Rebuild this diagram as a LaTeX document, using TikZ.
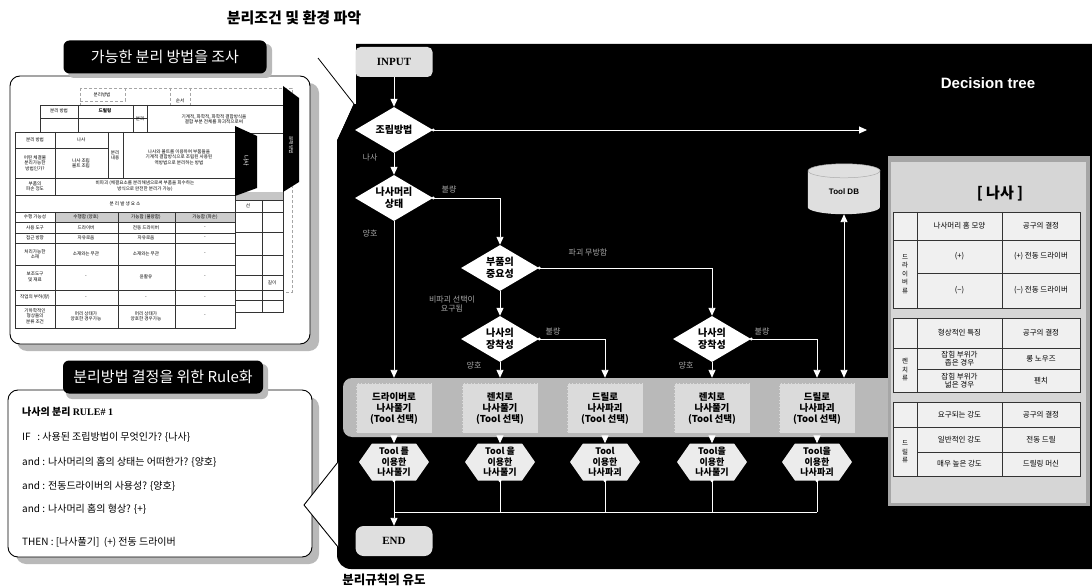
\documentclass[tikz,border=0pt]{standalone}
\usepackage{fontspec}
\setmainfont{Noto Sans CJK KR}
\newfontfamily\tms{Liberation Serif}
\newfontfamily\arl{Liberation Sans}
\usetikzlibrary{shapes.geometric,shapes.symbols,arrows.meta,calc}
\newcounter{cc}
\newcommand\tc[4][]{\stepcounter{cc}\node[tt,#1] (c\the\value{cc}) at (#2,#3) {#4};}
\tikzset{
 tip/.tip={Triangle[width=7pt,length=8pt]},
 wl/.style={white, line width=0.9pt},
 wa/.style={white, line width=0.9pt, -tip},
 dia/.style={diamond, fill=white, minimum width=78pt, minimum height=46pt, inner sep=0pt},
 dtext/.style={font=\fontsize{10}{11.5}\selectfont\bfseries, align=center, inner sep=0pt, text=black},
 glab/.style={text=gray!70, font=\fontsize{8}{9.5}\selectfont, align=center, inner sep=0pt},
 toolbox/.style={fill=gray!28, draw=gray!55, densely dotted, minimum width=76pt, minimum height=50pt, align=center, font=\fontsize{9.5}{11}\selectfont\bfseries, inner sep=1pt},
 hexa/.style={signal, signal to=west and east, signal pointer angle=110, fill=gray!15, minimum width=70pt, minimum height=37pt, inner sep=0pt, align=center, font=\fontsize{9}{10.5}\selectfont\bfseries},
 term/.style={fill=gray!25, rounded corners=5pt, minimum width=77pt, minimum height=30pt, font=\tms\bfseries\fontsize{11}{12}\selectfont},
 tt/.style={font=\fontsize{4.6}{5.4}\selectfont, align=center, inner sep=0pt},
 tl/.style={draw=black!80, line width=0.45pt},
 pt/.style={font=\fontsize{7.5}{8.6}\selectfont, align=center, inner sep=0pt},
 rt/.style={font=\fontsize{10}{12}\selectfont, anchor=west, inner sep=0pt},
 banner/.style={fill=black, rounded corners=6pt, text=white, font=\fontsize{15}{17}\selectfont, minimum height=33pt, inner sep=0pt},
}
\begin{document}
\begin{tikzpicture}[x=1pt,y=-1pt]
\useasboundingbox (0,0) rectangle (1092,588);
\fill[white] (0,0) rectangle (1092,588);

% titles
\node[font=\fontsize{15}{16}\selectfont\bfseries] (title) at (294,18) {분리조건 및 환경 파악};
\node[font=\fontsize{12.5}{14}\selectfont\bfseries] (subtitle) at (384,580) {분리규칙의 유도};

% black area
\fill[black, rounded corners=14pt] (337,44) rectangle (1110,569);
\fill[white] (336,43) -- (356,43) -- (356,104) -- (336,104) -- cycle;
\fill[black] (356,44) rectangle (380,60);
\fill[white] (318,58) -- (354,104) -- (337,140) -- (320,140) -- cycle;
\draw[black, line width=0.8pt] (318,58) -- (354,104) -- (338,140);

% ---------- top-left box ----------
\fill[gray!55, rounded corners=10pt] (17,83) rectangle (319,351);
\draw[black, line width=0.9pt, fill=white, rounded corners=10pt] (10,76) rectangle (310,344);
% table A (back)
\fill[white] (80,88) rectangle (292,292);
\draw[gray!70, densely dashed, line width=0.4pt] (80,88) rectangle (292,292);
\draw[gray!70, densely dashed, line width=0.4pt] (80,101) -- (125,101) -- (125,88) (170,88) -- (170,106) -- (292,106) (190,88) -- (190,106);
\tc{102}{95}{분리방법}
\tc{180}{101}{순서}
\fill[black] (283,86) -- (299,98) -- (299,112) -- (283,112) -- cycle;
% table B
\fill[white] (40,105) rectangle (283,312);
\draw[tl] (40,105) rectangle (283,312);
\draw[tl] (40,118) -- (147,118) (40,133) -- (283,133) (78,105) -- (78,133) (133,105) -- (133,133) (147,105) -- (147,133);
\draw[tl] (235,192) -- (283,192) (235,200) -- (283,200) (235,212) -- (283,212) (235,232) -- (283,232) (235,255) -- (283,255) (235,275) -- (283,275) (235,290) -- (283,290) (235,300) -- (283,300) (262,200) -- (262,312);
\fill[gray!45] (235,192) rectangle (283,200);
\tc{59}{111}{분리 방법}
\tc{105}{111}{\bfseries 드릴링}
\tc{140}{119}{분리}
\tc{214}{119}{기계적, 화학적, 화학적 결합방식을\\결합 부분 전체를 파괴적으로써}
\tc{248}{206}{선}
\tc{272}{283}{길이}
\fill[black] (283,98) -- (299,112) -- (299,182) -- (283,192) -- cycle;
\tc[text=white, rotate=-90]{291}{145}{분해 방법}
% table C (front)
\fill[white] (15,132) rectangle (235,328);
\fill[gray!40] (55,212) rectangle (235,222);
\draw[tl] (15,132) rectangle (235,328);
\draw[tl] (15,148) -- (108,148) (15,178) -- (235,178) (15,195) -- (235,195);
\foreach \yy in {212,222,233,243,265,290,305} \draw[tl] (15,\yy) -- (235,\yy);
\draw[tl] (55,132) -- (55,195) (108,132) -- (108,178) (123,132) -- (123,178);
\draw[tl] (55,212) -- (55,328) (118,212) -- (118,328) (175,212) -- (175,328);
\tc{35}{140}{분리 방법}
\tc{81}{140}{나사}
\tc{35}{163}{어떤 체결물\\분리가능한\\방법인가?}
\tc{81}{163}{나사 조립\\볼트 조립}
\tc{115}{155}{분리\\내용}
\tc{179}{157}{나사와 볼트를 이용하여 부품들을\\기계적 결합방식으로 조립된 사용된\\역방법으로 분리하는 방법}
\tc{35}{186}{부품의\\파손 정도}
\tc{145}{186}{비파괴 (체결요소를 분리해냄으로써 부품을 회수하는\\방식으로 완전한 분리가 가능)}
\tc{125}{204}{분 리 발 생 요 소}
\tc{35}{217}{수행 가능성}
\tc{86}{217}{수행함 (양호)}
\tc{146}{217}{가능함 (불량함)}
\tc{205}{217}{가능함 (파손)}
\tc{35}{227.5}{사용 도구}
\tc{86}{227.5}{드라이버}
\tc{146}{227.5}{전동 드라이버}
\tc{205}{227.5}{-}
\tc{35}{238}{접근 방향}
\tc{86}{238}{자유로움}
\tc{146}{238}{자유로움}
\tc{205}{238}{-}
\tc{35}{254}{처리가능한\\소재}
\tc{86}{254}{소재와는 무관}
\tc{146}{254}{소재와는 무관}
\tc{205}{254}{-}
\tc{35}{277}{보조도구\\및 재료}
\tc{86}{277}{-}
\tc{146}{277}{윤활유}
\tc{205}{277}{-}
\tc{35}{297.5}{작업의 부하(량)}
\tc{86}{297.5}{-}
\tc{146}{297.5}{-}
\tc{205}{297.5}{-}
\tc{35}{316}{기하학적인\\형상들의\\분류 조건}
\tc{86}{316}{머리 상태가\\양호한 경우가능}
\tc{146}{316}{머리 상태가\\양호한 경우가능}
\tc{205}{316}{-}
\fill[black] (235,126) -- (257,136) -- (257,188) -- (235,196) -- cycle;
\tc[text=white, rotate=-90, font=\fontsize{6}{7}\selectfont]{246}{161}{나사}
% banner 1
\fill[gray!55, rounded corners=6pt] (68,44) rectangle (272,78);
\node[banner, minimum width=203pt] (ban1) at (165,57) {가능한 분리 방법을 조사};

% ---------- bottom-left box ----------
\fill[gray!55, rounded corners=10pt] (16,397) rectangle (319,564);
\draw[black, line width=0.9pt, fill=white, rounded corners=10pt] (8,390) rectangle (312,557);
\fill[gray!55, rounded corners=6pt] (66,364) rectangle (268,399);
\node[banner, minimum width=200pt] (ban2) at (163,377) {분리방법 결정을 위한 Rule화};
\node[rt] (r1) at (22,412) {\bfseries 나사의 분리 {\tms RULE\# 1}};
\node[rt] (r2) at (22,437) {IF\ \ \ : 사용된 조립방법이 무엇인가? \{나사\}};
\node[rt] (r3) at (22,462) {and : 나사머리의 홈의 상태는 어떠한가? \{양호\}};
\node[rt] (r4) at (22,486) {and : 전동드라이버의 사용성? \{양호\}};
\node[rt] (r5) at (22,509) {and : 나사머리 홈의 형상? \{+\}};
\node[rt] (r6) at (22,542) {THEN : [나사풀기]\ \ (+) 전동 드라이버};
% pointer
\fill[white] (338,462) -- (304,505) -- (338,547) -- cycle;
\draw[black, line width=0.9pt] (338,462) -- (304,505) -- (338,547);

% ---------- flowchart ----------
\node[term] (input) at (394,62) {INPUT};
\node[dia, label={[dtext]center:조립방법}] (d1) at (394,130) {};
\node[dia, label={[dtext]center:나사머리\\상태}] (d2) at (394,198) {};
\node[dia, label={[dtext]center:부품의\\중요성}] (d3) at (500,268) {};
\node[dia, label={[dtext]center:나사의\\장착성}] (d4) at (500,339) {};
\node[dia, label={[dtext]center:나사의\\장착성}] (d5) at (712,339) {};
\coordinate (rend) at (867,130);

\node[fill=gray!55, rounded corners=9pt, minimum width=565pt, minimum height=59pt] (band) at (625.5,407.5) {};
\node[toolbox] (b1) at (394,408) {드라이버로\\나사풀기\\(Tool 선택)};
\node[toolbox] (b2) at (500,408) {렌치로\\나사풀기\\(Tool 선택)};
\node[toolbox] (b3) at (605,408) {드릴로\\나사파괴\\(Tool 선택)};
\node[toolbox] (b4) at (712,408) {렌치로\\나사풀기\\(Tool 선택)};
\node[toolbox] (b5) at (817,408) {드릴로\\나사파괴\\(Tool 선택)};

\node[hexa] (h1) at (394,462) {Tool 를\\이용한\\나사풀기};
\node[hexa] (h2) at (500,462) {Tool 을\\이용한\\나사풀기};
\node[hexa] (h3) at (605,462) {Tool\\이용한\\나사파괴};
\node[hexa] (h4) at (712,462) {Tool을\\이용한\\나사풀기};
\node[hexa] (h5) at (817,462) {Tool을\\이용한\\나사파괴};
\node[term, font=\tms\bfseries\fontsize{11}{12}\selectfont, rounded corners=8pt] (end) at (394,541) {END};
\coordinate (j1) at (394,512);

% Tool DB
\node[minimum width=72pt, minimum height=50pt, inner sep=0pt] (db) at (844,189) {};
\fill[gray!25] ($(db.north west)+(0,7)$) -- ($(db.south west)+(0,-7)$) arc[start angle=180,end angle=360,x radius=36pt,y radius=7pt] -- ($(db.north east)+(0,7)$) arc[start angle=0,end angle=180,x radius=36pt,y radius=7pt] -- cycle;
\draw[gray!65, line width=0.5pt] ($(db.north)+(0,7)$) ellipse[x radius=36pt,y radius=7pt];
\node[font=\arl\bfseries\fontsize{8}{9}\selectfont] (dbt) at ($(db.center)+(0,3)$) {Tool DB};

% connectors
\draw[wa] (input) -- (d1);
\draw[wa] (d1) -- (d2);
\draw[wa] (d1.east) -- (rend);
\draw[wa] (d2.east) -| (d3.north);
\draw[wa] (d2.south) -- (b1.north |- band.north);
\draw[wa] (d3) -- (d4);
\draw[wa] (d3.east) -| (d5.north);
\draw[wa] (d4.south) -- (b2.north |- band.north);
\draw[wa] (d4.east) -| (b3.north |- band.north);
\draw[wa] (d5.south) -- (b4.north |- band.north);
\draw[wa] (d5.east) -| (b5.north |- band.north);
\draw[white, line width=0.9pt, tip-tip] (db.south) -- (db.south |- band.north);
\foreach \i in {1,...,5} {
  \draw[wa] (b\i.south |- band.south) -- (h\i.north);
  \draw[wl] (h\i.south) -- (h\i.south |- j1);
  \fill[white] (h\i.south) circle (1.6pt);
}
\draw[wl] (j1) -- (h5.south |- j1);
\draw[wa] (j1) -- (end);
\foreach \n in {d1,d2,d3,d4,d5} \fill[white] (\n.east) circle (1.6pt);

% branch labels
\node[glab] (l1) at (370,158) {나사};
\node[glab] (l2) at (449,190) {불량};
\node[glab] (l3) at (370,233) {양호};
\node[glab] (l4) at (588,252) {파괴 무방함};
\node[glab] (l5) at (452,304) {비파괴 선택이\\요구됨};
\node[glab] (l6) at (553,331) {불량};
\node[glab] (l7) at (474,365) {양호};
\node[glab] (l8) at (762,331) {불량};
\node[glab] (l9) at (686,365) {양호};

\node[font=\arl\bfseries\fontsize{15}{17}\selectfont, text=white] (dt) at (988,83) {Decision tree};

% ---------- right panel ----------
\fill[gray!70] (888,156) rectangle (1090,506);
\fill[gray!32] (891,162) rectangle (1086,503);
\node[font=\fontsize{15}{17}\selectfont\bfseries] (ptitle) at (1000,193) {[ 나사 ]};
\foreach \ya/\yb/\yc/\yd in {212/240/273/308, 318/348/369/392, 402/427/452/476} {
  \fill[white!88!gray] (893,\ya) rectangle (1080,\yd);
  \draw[tl] (893,\ya) rectangle (1080,\yd);
  \draw[tl] (917,\yb) -- (1080,\yb) (917,\yc) -- (1080,\yc) (893,\yb) -- (917,\yb);
  \draw[tl] (917,\ya) -- (917,\yd) (1002,\ya) -- (1002,\yd);
}
\node[pt] (p1) at (959.5,226) {나사머리 홈 모양};
\node[pt] (p2) at (1041,226) {공구의 결정};
\node[pt] (p3) at (959.5,256.5) {(+)};
\node[pt] (p4) at (1041,256.5) {(+) 전동 드라이버};
\node[pt] (p5) at (959.5,290.5) {(−)};
\node[pt] (p6) at (1041,290.5) {(−) 전동 드라이버};
\node[pt, font=\fontsize{6.5}{8.5}\selectfont] (p7) at (905,274) {드\\라\\이\\버\\류};
\node[pt] (p8) at (959.5,333) {형상적인 특징};
\node[pt] (p9) at (1041,333) {공구의 결정};
\node[pt] (p10) at (959.5,358.5) {잡힘 부위가\\좁은 경우};
\node[pt] (p11) at (1041,358.5) {롱 노우즈};
\node[pt] (p12) at (959.5,380.5) {잡힘 부위가\\넓은 경우};
\node[pt] (p13) at (1041,380.5) {펜치};
\node[pt, font=\fontsize{6.5}{8.5}\selectfont] (p14) at (905,370) {렌\\치\\류};
\node[pt] (p15) at (959.5,414.5) {요구되는 강도};
\node[pt] (p16) at (1041,414.5) {공구의 결정};
\node[pt] (p17) at (959.5,439.5) {일반적인 강도};
\node[pt] (p18) at (1041,439.5) {전동 드릴};
\node[pt] (p19) at (959.5,464) {매우 높은 강도};
\node[pt] (p20) at (1041,464) {드릴링 머신};
\node[pt, font=\fontsize{6.5}{8.5}\selectfont] (p21) at (905,452) {드\\릴\\류};
\end{tikzpicture}
\end{document}
